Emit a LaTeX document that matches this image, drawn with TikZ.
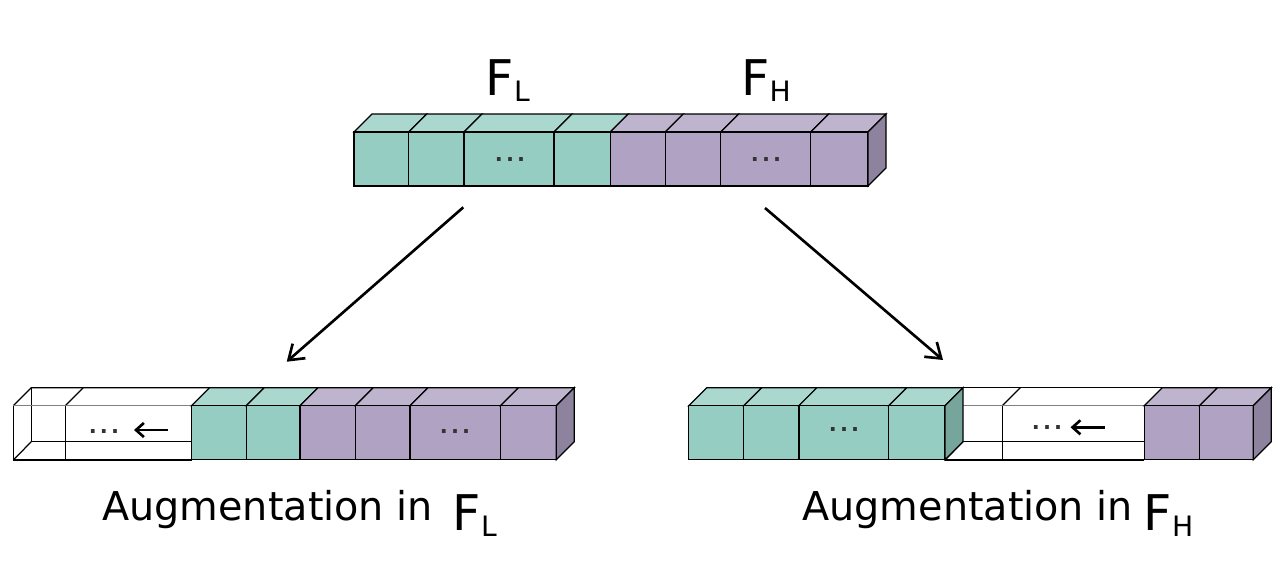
\documentclass[tikz,border=0pt]{standalone}
\usepackage{fontspec}
\setmainfont{DejaVu Sans}
\usetikzlibrary{arrows.meta}

\definecolor{tealF}{RGB}{150,205,194}
\definecolor{tealT}{RGB}{170,216,207}
\definecolor{tealS}{RGB}{118,165,156}
\definecolor{lilacF}{RGB}{176,162,195}
\definecolor{lilacT}{RGB}{191,180,206}
\definecolor{lilacS}{RGB}{142,131,158}

% F with a lowered index
\newcommand{\Fsub}[1]{{\fontsize{28}{30}\selectfont F}\raisebox{-3.8pt}{\fontsize{16}{18}\selectfont #1}}
% spaced dots
\newcommand{\celldots}{.\hspace{1.8pt}.\hspace{1.8pt}.}
% one cube: left x, right x, top y of front face, colour
\newcommand{\cubecell}[4]{%
  \draw[cubeline, fill=#4T] (#1,#3) -- ++(18,-18) -- ({#2+18},{#3-18}) -- (#2,#3) -- cycle;
  \draw[cubeline, fill=#4F] (#1,#3) rectangle (#2,{#3+54});
}
% right face of the last cube
\newcommand{\cubeside}[3]{%
  \draw[cubeline, fill=#3S] (#1,#2) -- ++(18,-18) -- ++(0,54) -- ++(-18,18) -- cycle;
}

\tikzset{
  % Set arrowhead
  >={Straight Barb[length=8pt, width=11pt]},
  % cube edges
  cubeline/.style={draw=black, line width=0.7pt},
  ghost/.style={draw=black!50, line width=0.7pt},
  % dots in a cell
  dots/.style={inner sep=0pt, text=black!80, font=\fontsize{12}{12}\selectfont\bfseries},
  % captions
  capt/.style={inner sep=0pt, anchor=base west, font=\fontsize{22.6}{27}\selectfont},
  flbl/.style={inner sep=0pt, anchor=base west},
  % Arrows
  bigarrow/.style={->, line width=1.5pt},
  smallarrow/.style={-{Straight Barb[length=4.5pt, width=8pt]}, line width=1.5pt},
}

\begin{document}
\begin{tikzpicture}[x=0.02cm, y=-0.02cm]
  \useasboundingbox (0,0) rectangle (1280,569);

  % whole feature
  \foreach \a/\b/\col in {354/408.7/teal, 408.7/464.1/teal, 464.1/554.1/teal,
      554.1/610.3/teal, 610.3/665.3/lilac, 665.3/720.7/lilac,
      720.7/810.8/lilac, 810.8/868/lilac}
    {\cubecell{\a}{\b}{132}{\col}}
  \cubeside{868}{132}{lilac}
  \node[dots] (dotsL) at (510,160) {\celldots};
  \node[dots] (dotsH) at (766,160) {\celldots};
  \node[flbl] (FL) at (485.5,95) {\Fsub{L}};
  \node[flbl] (FH) at (741,95) {\Fsub{H}};

  % augmentation in F_L
  \draw[cubeline] (31.3,387.7) -- (31.3,441.7) -- (191.5,441.7);
  \draw[cubeline] (13.3,405.7) -- (31.3,387.7) -- (209.5,387.7);
  \draw[cubeline] (13.3,460) -- (31.3,441.7);
  \draw[cubeline] (65.3,405.7) -- (83.3,387.7);
  \draw[cubeline] (191.5,460) -- (13.3,460) -- (13.3,405.7);
  \draw[ghost] (13.3,405.7) -- (191.5,405.7);
  \draw[cubeline] (65.3,405.7) -- (65.3,460);
  \foreach \a/\b/\col in {191.5/246.2/teal, 246.2/300/teal, 300/355.4/lilac,
      355.4/410.1/lilac, 410.1/500.5/lilac, 500.5/556.3/lilac}
    {\cubecell{\a}{\b}{405.7}{\col}}
  \cubeside{556.3}{405.7}{lilac}
  \node[dots] (dotsA) at (104,431) {\celldots};
  \node[dots] (dotsB) at (455,431) {\celldots};
  \coordinate (shiftLa) at (168,430);
  \coordinate (shiftLb) at (134,430);
  \draw[smallarrow] (shiftLa) -- (shiftLb);
  \node[capt] (augL) at (102,520) {Augmentation in};
  \node[flbl] (augFL) at (452.5,530) {\Fsub{L}};

  % augmentation in F_H
  \draw[cubeline] (963,387.7) -- (1162.3,387.7);
  \draw[cubeline] (963,441.7) -- (1144.3,441.7);
  \draw[cubeline] (945,460) -- (963,441.7);
  \draw[cubeline] (1002.3,405.7) -- (1020.3,387.7);
  \draw[cubeline] (945,460) -- (1144.3,460);
  \draw[ghost] (945,405.7) -- (1144.3,405.7);
  \draw[cubeline] (1002.3,405.7) -- (1002.3,460);
  \foreach \a/\b/\col in {688.7/743.8/teal, 743.8/798.9/teal, 798.9/888.8/teal,
      888.8/945/teal, 1144.3/1199.4/lilac, 1199.4/1253.3/lilac}
    {\cubecell{\a}{\b}{405.7}{\col}}
  \cubeside{945}{405.7}{teal}
  \cubeside{1253.3}{405.7}{lilac}
  \node[dots] (dotsC) at (844,429) {\celldots};
  \node[dots] (dotsD) at (1047,427.5) {\celldots};
  \coordinate (shiftHa) at (1105,427.3);
  \coordinate (shiftHb) at (1070.5,427.3);
  \draw[smallarrow] (shiftHa) -- (shiftHb);
  \node[capt] (augH) at (802,520) {Augmentation in};
  \node[flbl] (augFH) at (1143.5,530) {\Fsub{H}};

  % arrows down
  \coordinate (fromL) at (463.3,207.3);
  \coordinate (toL) at (286.7,361.7);
  \coordinate (fromH) at (765,208);
  \coordinate (toH) at (943,360);
  \draw[bigarrow] (fromL) -- (toL);
  \draw[bigarrow] (fromH) -- (toH);
\end{tikzpicture}
\end{document}
